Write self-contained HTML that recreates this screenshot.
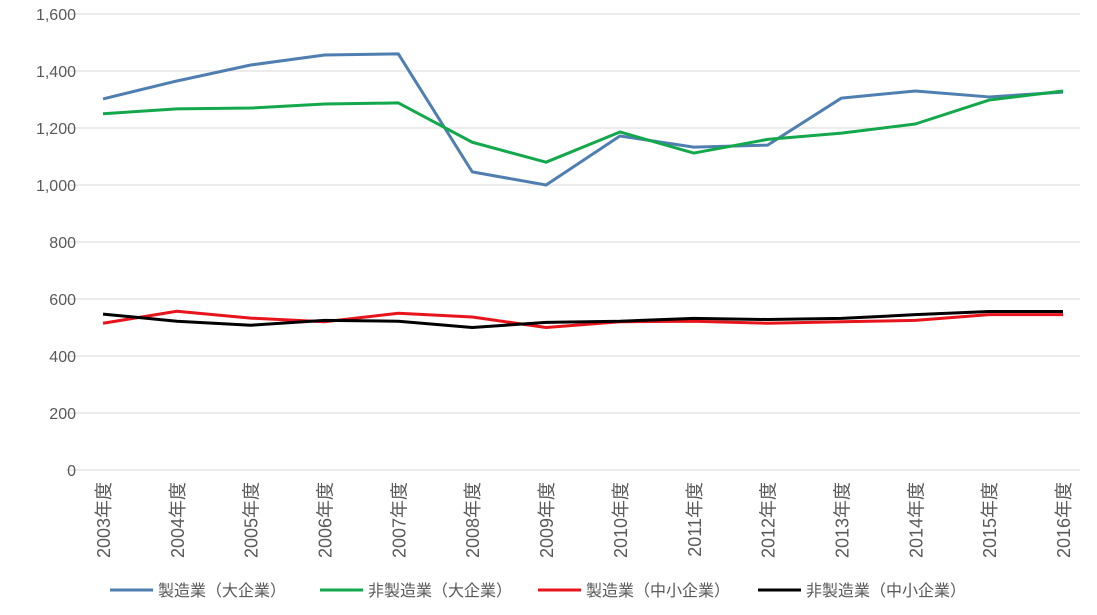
<!DOCTYPE html>
<html><head><meta charset="utf-8"><style>
body{margin:0;background:#fff;}
svg text{font-family:"Liberation Sans","Noto Sans CJK JP",sans-serif;fill:#595959;}
</style></head><body>
<svg width="1097" height="610" xmlns="http://www.w3.org/2000/svg">
<g id="grid"></g><g id="yt"></g><g id="xt"></g><g id="lines"></g><g id="legend"></g>
</svg>
<script>
const categories=["2003年度","2004年度","2005年度","2006年度","2007年度","2008年度","2009年度","2010年度","2011年度","2012年度","2013年度","2014年度","2015年度","2016年度"];
const largeMfg=[1302,1365,1421,1456,1460,1046,1000,1172,1133,1140,1305,1330,1309,1326];
const largeNonMfg=[1250,1267,1270,1284,1288,1150,1080,1186,1112,1160,1182,1214,1298,1330];
const smeMfg=[515,557,533,520,550,537,500,520,522,515,520,525,545,545];
const smeNonMfg=[547,522,508,525,522,500,518,522,532,528,532,545,556,556];
const yTicks=[0,200,400,600,800,1000,1200,1400,1600];
const yTickLabels=["0","200","400","600","800","1,000","1,200","1,400","1,600"];
const seriesNames=["製造業（大企業）","非製造業（大企業）","製造業（中小企業）","非製造業（中小企業）"];
const ns="http://www.w3.org/2000/svg";
const y0=470,y1=14,ymax=1600,x0=103,x1=1063,L=66,R=1080;
const Y=v=>y0-(v/ymax)*(y0-y1);
const X=i=>x0+i*(x1-x0)/(categories.length-1);
function mk(t,a,p){const e=document.createElementNS(ns,t);for(const k in a)e.setAttribute(k,a[k]);p.appendChild(e);return e;}
const grid=document.getElementById('grid'),yt=document.getElementById('yt'),xt=document.getElementById('xt'),lines=document.getElementById('lines'),lg=document.getElementById('legend');
yTicks.forEach((v,i)=>{
 const l=mk('line',{x1:L,x2:R,y1:Y(v),y2:Y(v),stroke:'#d9d9d9','stroke-width':1},grid);
 
 
 const t=mk('text',{x:76,y:Y(v)+6,'text-anchor':'end','font-size':16},yt);
 t.textContent=yTickLabels[i];
 
 
});
categories.forEach((c,i)=>{
 const t=mk('text',{x:0,y:0,'text-anchor':'end','font-size':18,transform:`translate(${X(i)+7},482) rotate(-90)`},xt);
 t.textContent=c;
 
 
});
const colors=["#4f7fb0","#13a84b","#e8141b","#000000"];
[largeMfg,largeNonMfg,smeMfg,smeNonMfg].forEach((s,k)=>{
 const p=mk('polyline',{points:s.map((v,i)=>X(i)+','+Y(v)).join(' '),fill:'none',stroke:colors[k],'stroke-width':3,'stroke-linejoin':'round'},lines);
 
 
});
const lx=[110,320,538,758];
seriesNames.forEach((n,k)=>{
 const g=mk('g',{},lg);
 
 
 mk('line',{x1:lx[k],x2:lx[k]+43,y1:590,y2:590,stroke:colors[k],'stroke-width':3},g);
 const t=mk('text',{x:lx[k]+48,y:596,'font-size':16},g);
 t.textContent=n;
});
</script>
</body></html>
